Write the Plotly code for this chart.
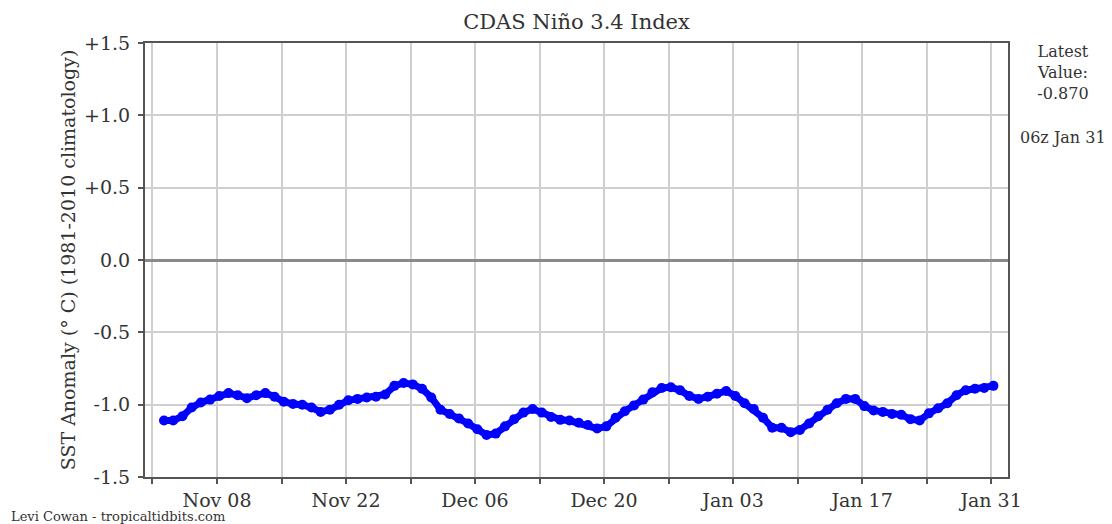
import pandas as pd
import plotly.graph_objects as go

start_time = "2020-11-02 06:00"
anomaly = [
    -1.11, -1.11, -1.08, -1.02, -0.985, -0.965, -0.94, -0.92, -0.935, -0.955,
    -0.935, -0.92, -0.945, -0.98, -0.995, -1.00, -1.02, -1.05, -1.035, -1.00,
    -0.97, -0.96, -0.95, -0.945, -0.93, -0.87, -0.85, -0.86, -0.89, -0.95,
    -1.035, -1.065, -1.095, -1.13, -1.17, -1.21, -1.20, -1.15, -1.10, -1.055,
    -1.03, -1.055, -1.085, -1.105, -1.11, -1.125, -1.14, -1.165, -1.15, -1.09,
    -1.045, -1.005, -0.965, -0.915, -0.885, -0.88, -0.90, -0.94, -0.96, -0.945,
    -0.925, -0.905, -0.94, -0.99, -1.03, -1.09, -1.16, -1.16, -1.19, -1.175,
    -1.13, -1.08, -1.035, -0.99, -0.96, -0.96, -1.01, -1.04, -1.05, -1.065,
    -1.07, -1.10, -1.11, -1.06, -1.025, -0.99, -0.935, -0.90, -0.89, -0.885,
    -0.87,
]
dates = pd.date_range(start_time, periods=len(anomaly), freq="D")

x_tick_dates = ["2020-11-01", "2020-11-08", "2020-11-15", "2020-11-22", "2020-11-29",
                "2020-12-06", "2020-12-13", "2020-12-20", "2020-12-27", "2021-01-03",
                "2021-01-10", "2021-01-17", "2021-01-24", "2021-01-31"]
x_tick_labels = ["", "Nov 08", "", "Nov 22", "", "Dec 06", "", "Dec 20", "",
                 "Jan 03", "", "Jan 17", "", "Jan 31"]
y_tick_vals = [1.5, 1.0, 0.5, 0.0, -0.5, -1.0, -1.5]
y_tick_labels = ["+1.5", "+1.0", "+0.5", "0.0", "-0.5", "-1.0", "-1.5"]

latest_label = "Latest<br>Value:<br>-0.870"
time_label = "06z Jan 31"

FONT = "DejaVu Serif"
TXT = "#333333"

fig = go.Figure()
fig.add_trace(go.Scatter(
    x=dates, y=anomaly, mode="lines+markers",
    line=dict(color="#0000ff", width=7),
    marker=dict(color="#0000ff", size=10),
    showlegend=False,
))

# page body adds an 8px margin, so the figure is sized 8px smaller
fig.update_layout(
    width=1104, height=516,
    margin=dict(l=137, r=104, t=35, b=47),
    paper_bgcolor="white", plot_bgcolor="white",
    font=dict(family=FONT, color=TXT, size=18),
    title=dict(text="CDAS Niño 3.4 Index", x=0.515, xanchor="center",
               y=0.973, yanchor="middle", font=dict(size=21, family=FONT, color=TXT)),
)
fig.update_xaxes(
    range=["2020-10-31 04:30", "2021-02-01 20:00"],
    tickvals=x_tick_dates, ticktext=x_tick_labels,
    showgrid=True, gridcolor="#cfcfcf", gridwidth=1.5,
    ticks="outside", ticklen=5, tickcolor="#555555", tickwidth=1.5,
    tickfont=dict(size=19, family=FONT, color=TXT),
    showline=True, linecolor="#555555", linewidth=2, mirror=True,
    zeroline=False,
)
fig.update_yaxes(
    range=[-1.5, 1.5],
    tickvals=y_tick_vals, ticktext=y_tick_labels,
    showgrid=True, gridcolor="#cfcfcf", gridwidth=1.5,
    zeroline=True, zerolinecolor="#8a8a8a", zerolinewidth=2.5,
    ticks="outside", ticklen=5, tickcolor="#555555", tickwidth=1.5,
    ticklabelstandoff=4,
    tickfont=dict(size=19, family=FONT, color=TXT),
    showline=True, linecolor="#555555", linewidth=2, mirror=True,
    title=dict(text="SST Anomaly (° C) (1981-2010 climatology)",
               font=dict(size=19, family=FONT, color=TXT), standoff=3),
)

fig.add_annotation(text=latest_label, xref="paper", yref="paper",
                   x=1.064, y=1.007, xanchor="center", yanchor="top",
                   showarrow=False, align="center",
                   font=dict(size=16, family=FONT, color=TXT))
fig.add_annotation(text=time_label, xref="paper", yref="paper",
                   x=1.064, y=0.783, xanchor="center", yanchor="middle",
                   showarrow=False, font=dict(size=16, family=FONT, color=TXT))
fig.add_annotation(text="Levi Cowan - tropicaltidbits.com", xref="paper", yref="paper",
                   x=-0.158, y=-0.092, xanchor="left", yanchor="middle",
                   showarrow=False, font=dict(size=13, family=FONT, color=TXT))

fig.write_html("out.html")
